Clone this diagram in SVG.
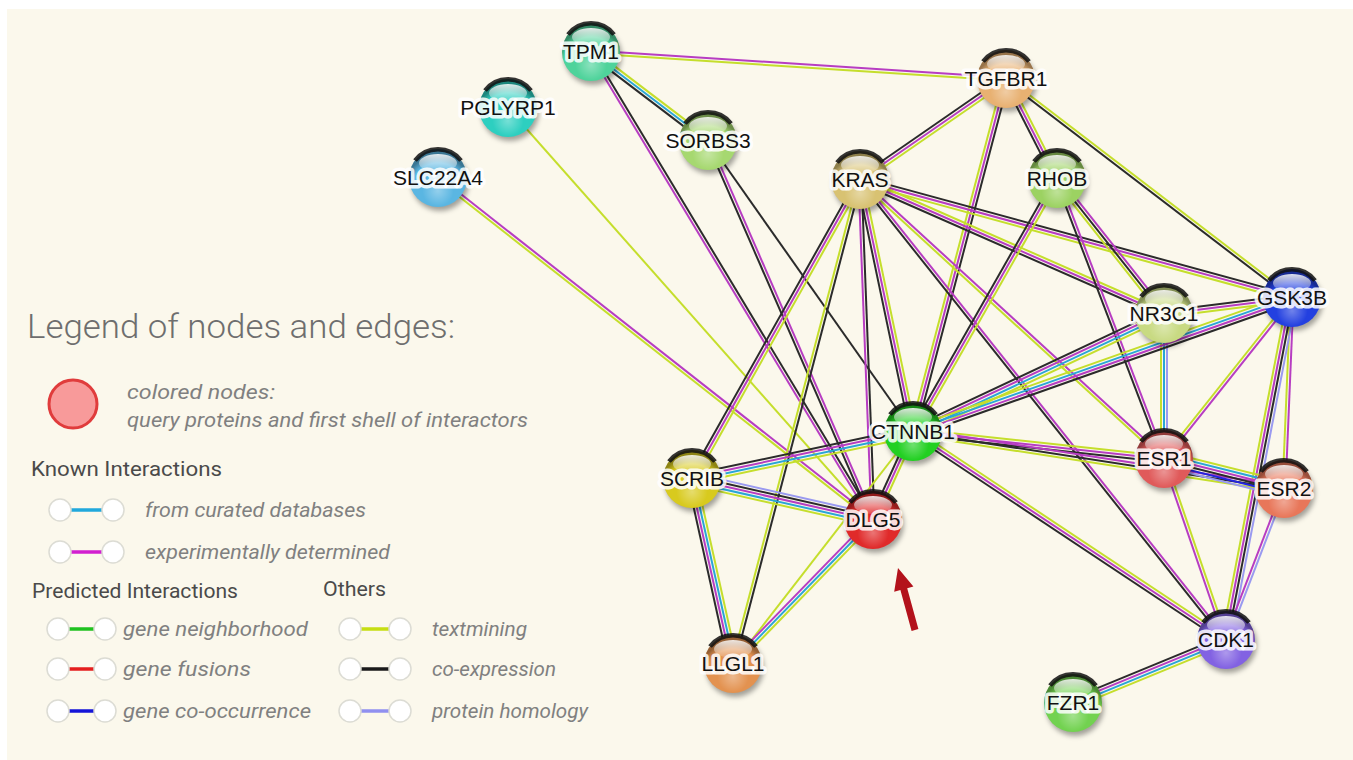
<svg xmlns="http://www.w3.org/2000/svg" xmlns:xlink="http://www.w3.org/1999/xlink" width="1353" height="760" viewBox="0 0 1353 760">
<style>
#edges use{stroke-width:2;fill:none}
.k{stroke:#2b2b2b}.m{stroke:#b73dc2}.y{stroke:#c5de2c}.c{stroke:#2aa6d6}.h{stroke:#9a9af0}.b{stroke:#2424dd}
.lbl{font-family:"Liberation Sans",Arial,sans-serif;font-size:21px;fill:#111;text-anchor:middle;stroke:#fff;stroke-opacity:.85;stroke-width:7px;stroke-linejoin:round;paint-order:stroke}
.ttl{font-family:Roboto,"Liberation Sans",sans-serif;font-weight:300;font-size:34px;fill:#6e6e6e}
.hd{font-family:Roboto,"Liberation Sans",sans-serif;font-size:21px;fill:#4a4a4a}
.it{font-family:Roboto,"Liberation Sans",sans-serif;font-style:italic;font-size:20px;fill:#808080}
.lc{fill:#fff;stroke:#dcdcd4;stroke-width:1.5}
.ll{stroke-width:3.5}
</style>
<defs>
<radialGradient id="shade" cx="0.5" cy="0.72" r="0.6">
<stop offset="0" stop-color="#fff" stop-opacity="0.35"/>
<stop offset="0.45" stop-color="#fff" stop-opacity="0"/>
<stop offset="0.8" stop-color="#000" stop-opacity="0"/>
<stop offset="1" stop-color="#000" stop-opacity="0.35"/>
</radialGradient>
<linearGradient id="gloss" x1="0" y1="0" x2="0" y2="1">
<stop offset="0" stop-color="#fff" stop-opacity="0.85"/>
<stop offset="1" stop-color="#fff" stop-opacity="0.15"/>
</linearGradient>
<filter id="blur" x="-50%" y="-50%" width="200%" height="200%"><feGaussianBlur stdDeviation="2.5"/></filter>
<circle id="shadow" r="29" cx="2" cy="4" fill="#000" fill-opacity="0.35" filter="url(#blur)"/>
<g id="orb">
<circle r="29" fill="url(#shade)"/>
<path d="M-23,-17.5 A29,29 0 0 1 23,-17.5" fill="none" stroke="#111" stroke-width="4.5" stroke-opacity="0.85"/>
<ellipse cx="0" cy="-15" rx="19" ry="9" fill="url(#gloss)"/>
</g>
<line id="e1" x1="591" y1="52" x2="1006" y2="79"/>
<line id="e2" x1="591" y1="52" x2="708" y2="141"/>
<line id="e3" x1="591" y1="52" x2="873" y2="520"/>
<line id="e4" x1="508" y1="108" x2="873" y2="520"/>
<line id="e5" x1="438" y1="178" x2="873" y2="520"/>
<line id="e6" x1="708" y1="141" x2="873" y2="520"/>
<line id="e7" x1="708" y1="141" x2="913" y2="432"/>
<line id="e8" x1="1006" y1="79" x2="860" y2="180"/>
<line id="e9" x1="1006" y1="79" x2="913" y2="432"/>
<line id="e10" x1="1006" y1="79" x2="1057" y2="179"/>
<line id="e11" x1="1006" y1="79" x2="1292" y2="298"/>
<line id="e12" x1="860" y1="180" x2="1292" y2="298"/>
<line id="e13" x1="860" y1="180" x2="1164" y2="314"/>
<line id="e14" x1="860" y1="180" x2="1164" y2="459"/>
<line id="e15" x1="860" y1="180" x2="1226" y2="640"/>
<line id="e16" x1="860" y1="180" x2="913" y2="432"/>
<line id="e17" x1="860" y1="180" x2="873" y2="520"/>
<line id="e18" x1="860" y1="180" x2="692" y2="479"/>
<line id="e19" x1="860" y1="180" x2="733" y2="664"/>
<line id="e20" x1="1057" y1="179" x2="913" y2="432"/>
<line id="e21" x1="1057" y1="179" x2="1164" y2="314"/>
<line id="e22" x1="1057" y1="179" x2="1164" y2="459"/>
<line id="e23" x1="1164" y1="314" x2="1292" y2="298"/>
<line id="e24" x1="1164" y1="314" x2="913" y2="432"/>
<line id="e25" x1="1164" y1="314" x2="1164" y2="459"/>
<line id="e26" x1="1292" y1="298" x2="913" y2="432"/>
<line id="e27" x1="1292" y1="298" x2="1164" y2="459"/>
<line id="e28" x1="1292" y1="298" x2="1284" y2="489"/>
<line id="e29" x1="1292" y1="298" x2="1226" y2="640"/>
<line id="e30" x1="913" y1="432" x2="1164" y2="459"/>
<line id="e31" x1="913" y1="432" x2="1284" y2="489"/>
<line id="e32" x1="913" y1="432" x2="1226" y2="640"/>
<line id="e33" x1="913" y1="432" x2="692" y2="479"/>
<line id="e34" x1="913" y1="432" x2="873" y2="520"/>
<line id="e35" x1="913" y1="432" x2="733" y2="664"/>
<line id="e36" x1="1164" y1="459" x2="1284" y2="489"/>
<line id="e37" x1="1164" y1="459" x2="1226" y2="640"/>
<line id="e38" x1="1284" y1="489" x2="1226" y2="640"/>
<line id="e39" x1="692" y1="479" x2="873" y2="520"/>
<line id="e40" x1="692" y1="479" x2="733" y2="664"/>
<line id="e41" x1="873" y1="520" x2="733" y2="664"/>
<line id="e42" x1="1226" y1="640" x2="1073" y2="703"/>
</defs>

<rect width="1353" height="760" fill="#fff"/>
<rect x="7" y="9" width="1346" height="751" fill="#fbf8ec"/>

<g id="edges">
<use href="#e1" class="m" transform="translate(0.1,-1.5)"/><use href="#e1" class="y" transform="translate(-0.1,1.5)"/>
<use href="#e2" class="y" transform="translate(1.82,-2.39)"/><use href="#e2" class="c"/><use href="#e2" class="k" transform="translate(-1.82,2.39)"/>
<use href="#e3" class="m" transform="translate(-1.28,0.77)"/><use href="#e3" class="k" transform="translate(1.28,-0.77)"/>
<use href="#e4" class="y"/>
<use href="#e5" class="m" transform="translate(0.93,-1.18)"/><use href="#e5" class="y" transform="translate(-0.93,1.18)"/>
<use href="#e6" class="k" transform="translate(-1.37,0.6)"/><use href="#e6" class="m" transform="translate(1.37,-0.6)"/>
<use href="#e7" class="k"/>
<use href="#e8" class="k" transform="translate(-1.71,-2.47)"/><use href="#e8" class="m"/><use href="#e8" class="y" transform="translate(1.71,2.47)"/>
<use href="#e9" class="y" transform="translate(-2.9,-0.76)"/><use href="#e9" class="m"/><use href="#e9" class="k" transform="translate(2.9,0.76)"/>
<use href="#e10" class="k" transform="translate(-2.67,1.36)"/><use href="#e10" class="m"/><use href="#e10" class="y" transform="translate(2.67,-1.36)"/>
<use href="#e11" class="k" transform="translate(-0.91,1.19)"/><use href="#e11" class="y" transform="translate(0.91,-1.19)"/>
<use href="#e12" class="k" transform="translate(0.79,-2.89)"/><use href="#e12" class="m"/><use href="#e12" class="y" transform="translate(-0.79,2.89)"/>
<use href="#e13" class="y" transform="translate(1.21,-2.75)"/><use href="#e13" class="m"/><use href="#e13" class="k" transform="translate(-1.21,2.75)"/>
<use href="#e14" class="m" transform="translate(1.01,-1.1)"/><use href="#e14" class="y" transform="translate(-1.01,1.1)"/>
<use href="#e15" class="k" transform="translate(-1.17,0.93)"/><use href="#e15" class="m" transform="translate(1.17,-0.93)"/>
<use href="#e16" class="k" transform="translate(-2.94,0.62)"/><use href="#e16" class="m"/><use href="#e16" class="y" transform="translate(2.94,-0.62)"/>
<use href="#e17" class="m" transform="translate(-1.5,0.06)"/><use href="#e17" class="k" transform="translate(1.5,-0.06)"/>
<use href="#e18" class="k" transform="translate(-2.62,-1.47)"/><use href="#e18" class="m"/><use href="#e18" class="y" transform="translate(2.62,1.47)"/>
<use href="#e19" class="y" transform="translate(-1.45,-0.38)"/><use href="#e19" class="k" transform="translate(1.45,0.38)"/>
<use href="#e20" class="k" transform="translate(-2.61,-1.48)"/><use href="#e20" class="m"/><use href="#e20" class="y" transform="translate(2.61,1.48)"/>
<use href="#e21" class="m" transform="translate(2.35,-1.86)"/><use href="#e21" class="k"/><use href="#e21" class="y" transform="translate(-2.35,1.86)"/>
<use href="#e22" class="k" transform="translate(-1.4,0.54)"/><use href="#e22" class="m" transform="translate(1.4,-0.54)"/>
<use href="#e23" class="k" transform="translate(-0.37,-2.98)"/><use href="#e23" class="m"/><use href="#e23" class="y" transform="translate(0.37,2.98)"/>
<use href="#e24" class="k" transform="translate(-1.92,-4.08)"/><use href="#e24" class="m" transform="translate(-0.64,-1.36)"/><use href="#e24" class="c" transform="translate(0.64,1.36)"/><use href="#e24" class="y" transform="translate(1.92,4.08)"/>
<use href="#e25" class="y" transform="translate(-3,0)"/><use href="#e25" class="c"/><use href="#e25" class="h" transform="translate(3,0)"/>
<use href="#e26" class="y" transform="translate(-1.5,-4.24)"/><use href="#e26" class="c" transform="translate(-0.5,-1.41)"/><use href="#e26" class="m" transform="translate(0.5,1.41)"/><use href="#e26" class="k" transform="translate(1.5,4.24)"/>
<use href="#e27" class="y" transform="translate(-1.17,-0.93)"/><use href="#e27" class="m" transform="translate(1.17,0.93)"/>
<use href="#e28" class="y" transform="translate(-1.5,-0.06)"/><use href="#e28" class="m" transform="translate(1.5,0.06)"/>
<use href="#e29" class="y" transform="translate(-4.42,-0.85)"/><use href="#e29" class="m" transform="translate(-1.47,-0.28)"/><use href="#e29" class="k" transform="translate(1.47,0.28)"/><use href="#e29" class="h" transform="translate(4.42,0.85)"/>
<use href="#e30" class="y" transform="translate(0.32,-2.98)"/><use href="#e30" class="m"/><use href="#e30" class="k" transform="translate(-0.32,2.98)"/>
<use href="#e31" class="m" transform="translate(0.46,-2.96)"/><use href="#e31" class="k"/><use href="#e31" class="y" transform="translate(-0.46,2.96)"/>
<use href="#e32" class="y" transform="translate(1.66,-2.5)"/><use href="#e32" class="m"/><use href="#e32" class="k" transform="translate(-1.66,2.5)"/>
<use href="#e33" class="k" transform="translate(-0.93,-4.4)"/><use href="#e33" class="m" transform="translate(-0.31,-1.47)"/><use href="#e33" class="c" transform="translate(0.31,1.47)"/><use href="#e33" class="y" transform="translate(0.93,4.4)"/>
<use href="#e34" class="k" transform="translate(-2.73,-1.24)"/><use href="#e34" class="m"/><use href="#e34" class="y" transform="translate(2.73,1.24)"/>
<use href="#e35" class="y"/>
<use href="#e36" class="y" transform="translate(1.83,-7.28)"/><use href="#e36" class="c" transform="translate(1.1,-4.37)"/><use href="#e36" class="m" transform="translate(0.37,-1.46)"/><use href="#e36" class="k" transform="translate(-0.37,1.46)"/><use href="#e36" class="b" transform="translate(-1.1,4.37)"/><use href="#e36" class="h" transform="translate(-1.83,7.28)"/>
<use href="#e37" class="m" transform="translate(-1.42,0.49)"/><use href="#e37" class="y" transform="translate(1.42,-0.49)"/>
<use href="#e38" class="m" transform="translate(-1.4,-0.54)"/><use href="#e38" class="h" transform="translate(1.4,0.54)"/>
<use href="#e39" class="h" transform="translate(1.32,-5.86)"/><use href="#e39" class="k" transform="translate(0.66,-2.93)"/><use href="#e39" class="m"/><use href="#e39" class="c" transform="translate(-0.66,2.93)"/><use href="#e39" class="y" transform="translate(-1.32,5.86)"/>
<use href="#e40" class="k" transform="translate(-4.39,0.97)"/><use href="#e40" class="m" transform="translate(-1.46,0.32)"/><use href="#e40" class="c" transform="translate(1.46,-0.32)"/><use href="#e40" class="y" transform="translate(4.39,-0.97)"/>
<use href="#e41" class="m" transform="translate(-2.15,-2.09)"/><use href="#e41" class="c"/><use href="#e41" class="y" transform="translate(2.15,2.09)"/>
<use href="#e42" class="k" transform="translate(-1.71,-4.16)"/><use href="#e42" class="m" transform="translate(-0.57,-1.39)"/><use href="#e42" class="c" transform="translate(0.57,1.39)"/><use href="#e42" class="y" transform="translate(1.71,4.16)"/>
</g>

<g id="TPM1" transform="translate(591,52)"><use href="#shadow"/><circle r="29" fill="#4fd39b"/><use href="#orb"/><text class="lbl" y="7">TPM1</text></g>
<g id="PGLYRP1" transform="translate(508,108)"><use href="#shadow"/><circle r="29" fill="#2dcfc0"/><use href="#orb"/><text class="lbl" y="7">PGLYRP1</text></g>
<g id="SLC22A4" transform="translate(438,178)"><use href="#shadow"/><circle r="29" fill="#5ab6e2"/><use href="#orb"/><text class="lbl" y="7">SLC22A4</text></g>
<g id="SORBS3" transform="translate(708,141)"><use href="#shadow"/><circle r="29" fill="#a6d870"/><use href="#orb"/><text class="lbl" y="7">SORBS3</text></g>
<g id="TGFBR1" transform="translate(1006,79)"><use href="#shadow"/><circle r="29" fill="#e8b172"/><use href="#orb"/><text class="lbl" y="7">TGFBR1</text></g>
<g id="KRAS" transform="translate(860,180)"><use href="#shadow"/><circle r="29" fill="#d8c272"/><use href="#orb"/><text class="lbl" y="7">KRAS</text></g>
<g id="RHOB" transform="translate(1057,179)"><use href="#shadow"/><circle r="29" fill="#9cd262"/><use href="#orb"/><text class="lbl" y="7">RHOB</text></g>
<g id="GSK3B" transform="translate(1292,298)"><use href="#shadow"/><circle r="29" fill="#2340e0"/><use href="#orb"/><text class="lbl" y="7">GSK3B</text></g>
<g id="NR3C1" transform="translate(1164,314)"><use href="#shadow"/><circle r="29" fill="#c8da82"/><use href="#orb"/><text class="lbl" y="7">NR3C1</text></g>
<g id="CTNNB1" transform="translate(913,432)"><use href="#shadow"/><circle r="29" fill="#22d022"/><use href="#orb"/><text class="lbl" y="7">CTNNB1</text></g>
<g id="ESR1" transform="translate(1164,459)"><use href="#shadow"/><circle r="29" fill="#e05a5a"/><use href="#orb"/><text class="lbl" y="7">ESR1</text></g>
<g id="ESR2" transform="translate(1284,489)"><use href="#shadow"/><circle r="29" fill="#e8775a"/><use href="#orb"/><text class="lbl" y="7">ESR2</text></g>
<g id="SCRIB" transform="translate(692,479)"><use href="#shadow"/><circle r="29" fill="#d8ca1e"/><use href="#orb"/><text class="lbl" y="7">SCRIB</text></g>
<g id="DLG5" transform="translate(873,520)"><use href="#shadow"/><circle r="29" fill="#e02a2a"/><use href="#orb"/><text class="lbl" y="7">DLG5</text></g>
<g id="LLGL1" transform="translate(733,664)"><use href="#shadow"/><circle r="29" fill="#e39250"/><use href="#orb"/><text class="lbl" y="7">LLGL1</text></g>
<g id="CDK1" transform="translate(1226,640)"><use href="#shadow"/><circle r="29" fill="#8262e2"/><use href="#orb"/><text class="lbl" y="7">CDK1</text></g>
<g id="FZR1" transform="translate(1073,703)"><use href="#shadow"/><circle r="29" fill="#72d250"/><use href="#orb"/><text class="lbl" y="7">FZR1</text></g>

<g id="arrow"><polygon points="898,568 913.4,586.6 907.2,588.3 918.4,629.1 911.6,630.9 900.4,590.1 894.2,591.8" fill="#b3121b"/></g>

<g id="legend">
<text class="ttl" x="27" y="338" textLength="428" lengthAdjust="spacingAndGlyphs">Legend of nodes and edges:</text>
<circle cx="73" cy="404" r="24" fill="#f89a9a" stroke="#e03c3c" stroke-width="3"/>
<text class="it" x="127" y="399" textLength="148" lengthAdjust="spacingAndGlyphs">colored nodes:</text>
<text class="it" x="127" y="427" textLength="401" lengthAdjust="spacingAndGlyphs">query proteins and first shell of interactors</text>
<text class="hd" x="31" y="476" textLength="191" lengthAdjust="spacingAndGlyphs">Known Interactions</text>
<g><line class="ll" x1="61" y1="510" x2="112" y2="510" stroke="#20a8dc"/><circle class="lc" cx="60" cy="510" r="11"/><circle class="lc" cx="113" cy="510" r="11"/></g>
<text class="it" x="145" y="517" textLength="221" lengthAdjust="spacingAndGlyphs">from curated databases</text>
<g><line class="ll" x1="61" y1="552" x2="112" y2="552" stroke="#d21fd0"/><circle class="lc" cx="60" cy="552" r="11"/><circle class="lc" cx="113" cy="552" r="11"/></g>
<text class="it" x="145" y="559" textLength="245" lengthAdjust="spacingAndGlyphs">experimentally determined</text>
<text class="hd" x="32" y="598" textLength="206" lengthAdjust="spacingAndGlyphs">Predicted Interactions</text>
<text class="hd" x="323" y="596" textLength="63" lengthAdjust="spacingAndGlyphs">Others</text>
<g><line class="ll" x1="58" y1="629" x2="104" y2="629" stroke="#1fc21f"/><circle class="lc" cx="58" cy="629" r="11"/><circle class="lc" cx="105" cy="629" r="11"/></g>
<text class="it" x="123" y="636" textLength="185" lengthAdjust="spacingAndGlyphs">gene neighborhood</text>
<g><line class="ll" x1="58" y1="669" x2="104" y2="669" stroke="#e41e1e"/><circle class="lc" cx="58" cy="669" r="11"/><circle class="lc" cx="105" cy="669" r="11"/></g>
<text class="it" x="123" y="676" textLength="128" lengthAdjust="spacingAndGlyphs">gene fusions</text>
<g><line class="ll" x1="58" y1="711" x2="104" y2="711" stroke="#1414d8"/><circle class="lc" cx="58" cy="711" r="11"/><circle class="lc" cx="105" cy="711" r="11"/></g>
<text class="it" x="123" y="718" textLength="188" lengthAdjust="spacingAndGlyphs">gene co-occurrence</text>
<g><line class="ll" x1="351" y1="629" x2="400" y2="629" stroke="#c6de12"/><circle class="lc" cx="350" cy="629" r="11"/><circle class="lc" cx="400" cy="629" r="11"/></g>
<text class="it" x="432" y="636" textLength="95" lengthAdjust="spacingAndGlyphs">textmining</text>
<g><line class="ll" x1="351" y1="669" x2="400" y2="669" stroke="#1a1a1a"/><circle class="lc" cx="350" cy="669" r="11"/><circle class="lc" cx="400" cy="669" r="11"/></g>
<text class="it" x="432" y="676" textLength="124" lengthAdjust="spacingAndGlyphs">co-expression</text>
<g><line class="ll" x1="351" y1="711" x2="400" y2="711" stroke="#9090f0"/><circle class="lc" cx="350" cy="711" r="11"/><circle class="lc" cx="400" cy="711" r="11"/></g>
<text class="it" x="432" y="718" textLength="156" lengthAdjust="spacingAndGlyphs">protein homology</text>
</g>
</svg>
